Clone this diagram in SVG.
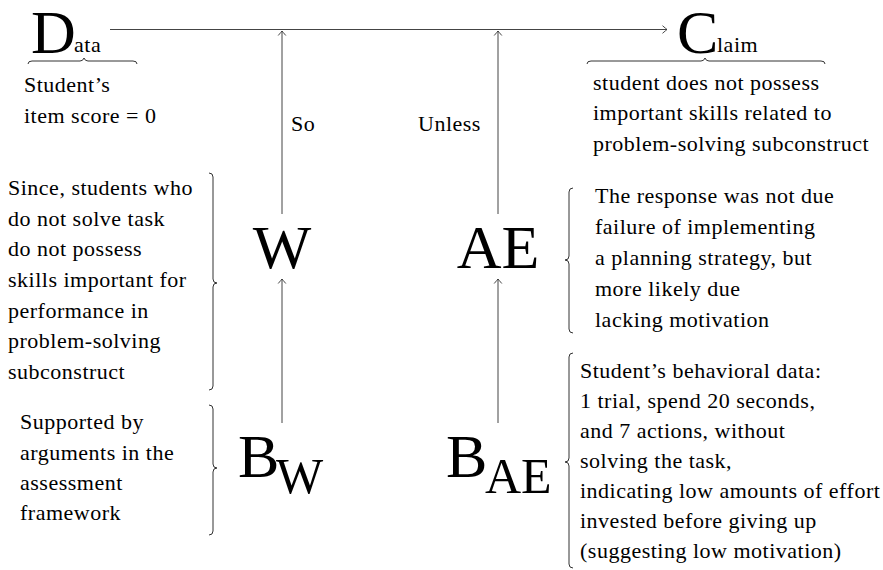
<svg xmlns="http://www.w3.org/2000/svg" width="883" height="570" viewBox="0 0 883 570">
<style>
.t{font-family:"Liberation Serif","Times New Roman",serif;font-size:22px;letter-spacing:0.5px;fill:#000}
.big{font-family:"Liberation Serif","Times New Roman",serif;font-size:62px;fill:#000}
.sub{font-family:"Liberation Serif","Times New Roman",serif;font-size:50px;fill:#000}
.br{fill:none;stroke:#333;stroke-width:1}
.ln{fill:none;stroke:#444;stroke-width:1;marker-end:url(#ah)}
</style>
<defs>
<marker id="ah" markerWidth="10" markerHeight="10" refX="0" refY="0" viewBox="-6 -5 7 10" orient="auto" markerUnits="userSpaceOnUse">
<path d="M-4.5,-3.8 Q-1,-0.8 0,0 Q-1,0.8 -4.5,3.8" fill="none" stroke="#333" stroke-width="0.9"/>
</marker>
</defs>
<g id="connectors">
<path class="ln" d="M110,29.5 L667,29.5"/>
<path class="ln" d="M282,214 L282,31"/>
<path class="ln" d="M282,423 L282,279"/>
<path class="ln" d="M498,214 L498,31"/>
<path class="ln" d="M498,423 L498,279"/>
</g>
<g id="data">
<text class="big" x="31" y="53" font-size="58">D</text>
<text class="t" x="74" y="52" letter-spacing="0">ata</text>
<path class="br" d="M28,64 Q28,61 32,61 L80,61 Q83,61 84,58 Q85,61 88,61 L133,61 Q137,61 137,64"/>
<text class="t" x="24" y="92">Student’s</text>
<text class="t" x="24" y="123">item score = 0</text>
</g>
<g id="claim">
<text class="big" x="677" y="53" font-size="58">C</text>
<text class="t" x="717" y="52" letter-spacing="0">laim</text>
<path class="br" d="M587,64 Q587,61 591,61 L701,61 Q704,61 705,58 Q706,61 709,61 L821,61 Q825,61 825,64"/>
<text class="t" x="593" y="90">student does not possess</text>
<text class="t" x="593" y="120">important skills related to</text>
<text class="t" x="593" y="151">problem-solving subconstruct</text>
</g>
<g id="so-label">
<text class="t" x="291" y="131">So</text>
</g>
<g id="unless-label">
<text class="t" x="418" y="131">Unless</text>
</g>
<g id="w">
<text class="big" x="282" y="268" text-anchor="middle">W</text>
<path class="br" d="M209,173 Q213,173 213,177 L213,279 Q213,283 217,283 Q213,283 213,287 L213,386 Q213,390 209,390"/>
<text class="t" x="8" y="195">Since, students who</text>
<text class="t" x="8" y="226">do not solve task</text>
<text class="t" x="8" y="256">do not possess</text>
<text class="t" x="8" y="287">skills important for</text>
<text class="t" x="8" y="318">performance in</text>
<text class="t" x="8" y="348">problem-solving</text>
<text class="t" x="8" y="379">subconstruct</text>
</g>
<g id="bw">
<text class="big" x="238" y="477" font-size="60">B</text>
<text class="sub" x="276" y="493">W</text>
<path class="br" d="M209,405 Q213,405 213,409 L213,464 Q213,468 217,468 Q213,468 213,472 L213,531 Q213,535 209,535"/>
<text class="t" x="20" y="429">Supported by</text>
<text class="t" x="20" y="460">arguments in the</text>
<text class="t" x="20" y="490">assessment</text>
<text class="t" x="20" y="520">framework</text>
</g>
<g id="ae">
<text class="big" x="498" y="268" text-anchor="middle">AE</text>
<path class="br" d="M573,188 Q569,188 569,192 L569,256 Q569,260 565,260 Q569,260 569,264 L569,329 Q569,333 573,333"/>
<text class="t" x="595" y="203">The response was not due</text>
<text class="t" x="595" y="234">failure of implementing</text>
<text class="t" x="595" y="265">a planning strategy, but</text>
<text class="t" x="595" y="296">more likely due</text>
<text class="t" x="595" y="327">lacking motivation</text>
</g>
<g id="bae">
<text class="big" x="446" y="477" font-size="60">B</text>
<text class="sub" x="485" y="493">AE</text>
<path class="br" d="M573,353 Q569,353 569,357 L569,458 Q569,462 565,462 Q569,462 569,466 L569,564 Q569,568 573,568"/>
<text class="t" x="580" y="378">Student’s behavioral data:</text>
<text class="t" x="580" y="408">1 trial, spend 20 seconds,</text>
<text class="t" x="580" y="438">and 7 actions, without</text>
<text class="t" x="580" y="468">solving the task,</text>
<text class="t" x="580" y="498">indicating low amounts of effort</text>
<text class="t" x="580" y="528">invested before giving up</text>
<text class="t" x="580" y="558">(suggesting low motivation)</text>
</g>
</svg>
